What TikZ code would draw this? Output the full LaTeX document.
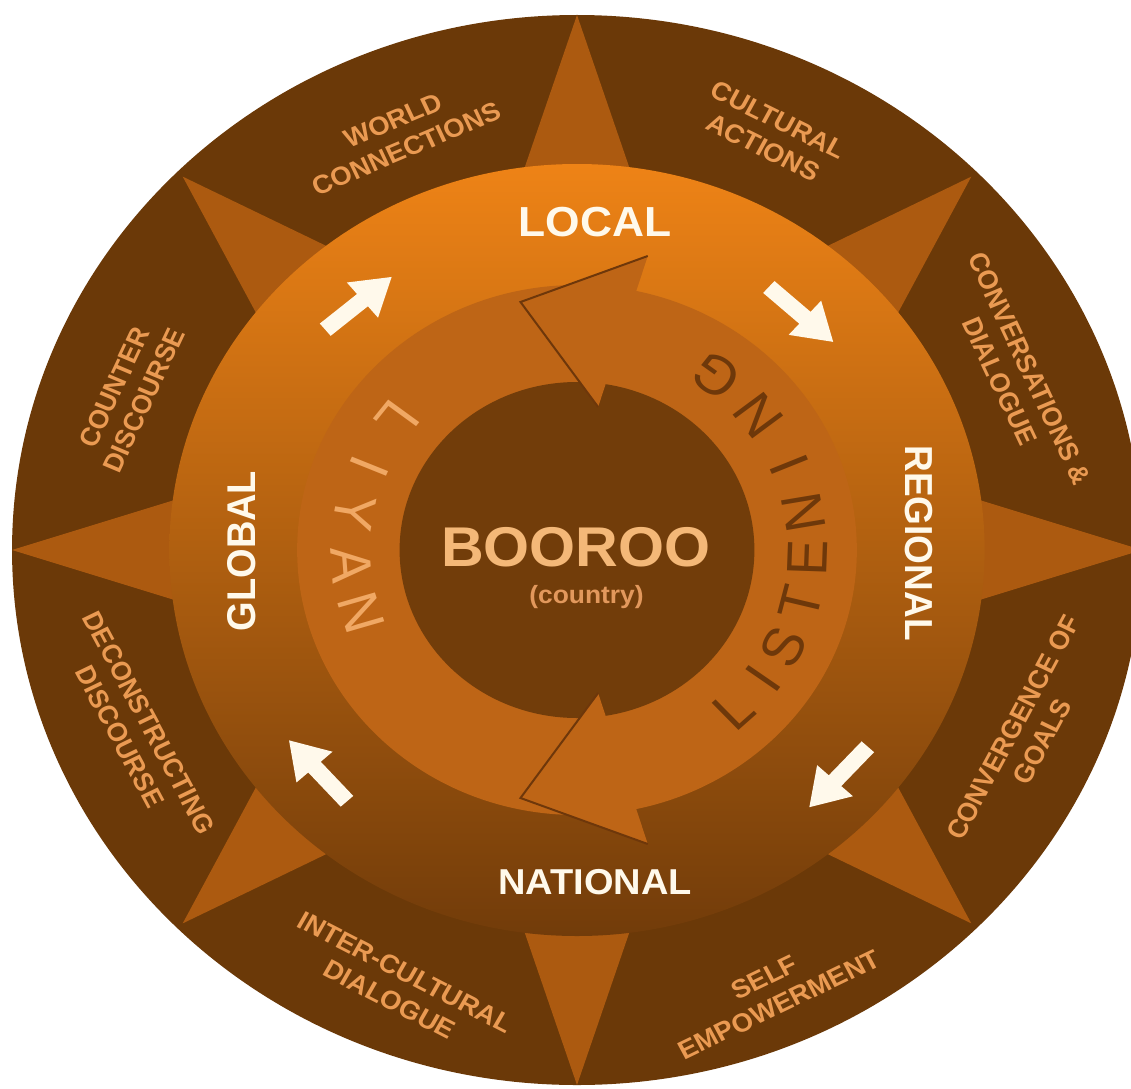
\documentclass[tikz,border=0pt]{standalone}
\usepackage{fontspec}
\setmainfont{Liberation Sans}
\usetikzlibrary{calc}

\definecolor{rimbrown}{RGB}{107,57,8}
\definecolor{starbrown}{RGB}{172,90,16}
\definecolor{ambertop}{RGB}{238,131,22}
\definecolor{ambermid}{RGB}{194,101,19}
\definecolor{amberbot}{RGB}{114,60,10}
\definecolor{ringorange}{RGB}{190,101,22}
\definecolor{corebrown}{RGB}{114,61,10}
\definecolor{edgebrown}{RGB}{110,55,10}
\definecolor{labelpeach}{RGB}{234,154,82}
\definecolor{cream}{RGB}{255,249,235}
\definecolor{titlepeach}{RGB}{244,184,120}
\definecolor{subpeach}{RGB}{226,152,92}
\definecolor{liyanpeach}{RGB}{240,168,100}
\definecolor{listenbrown}{RGB}{110,56,10}

\begin{document}
\begin{tikzpicture}[x=1pt,y=1pt,
  sectorlabel/.style={text=labelpeach, font=\fontsize{26}{31}\selectfont\bfseries,
    align=center, inner sep=0pt},
  scalelabel/.style={text=cream, inner sep=0pt},
  ringletter/.style={font=\fontsize{54}{54}\selectfont, inner sep=0pt},
  flowarrow/.style={fill=cream},
  headedge/.style={draw=edgebrown, line width=2pt, line join=miter},
]
\useasboundingbox (-577,-538) rectangle (554,550);
\begin{scope}[xscale=1.056, transform shape]
  % outer rim
  \fill[rimbrown] (0,0) circle (535);
  % eight star points
  \foreach \a/\r in {0/535,45/528,90/535,135/528,180/535,225/528,270/535,315/528}{
    \fill[starbrown] (\a:\r) -- ($(\a:\r)+(\a+180-18:270)$)
      -- ($(\a:\r)+(\a+180+18:270)$) -- cycle;
  }
  % middle disc with its vertical shading
  \shade[top color=ambertop, middle color=ambermid, bottom color=amberbot]
    (0,0) circle (386);
  % inner ring and core
  \fill[ringorange] (0,0) circle (265);
  \fill[corebrown] (0,0) circle (168);
  % the two arrow heads of the inner ring
  \fill[ringorange] (67,294) -- (-53.5,248) -- (20,143) -- cycle;
  \draw[headedge] (20,143) -- (-53.5,248) -- (67,294);
  \fill[ringorange] (67,-294) -- (-53.5,-248) -- (20,-143) -- cycle;
  \draw[headedge] (20,-143) -- (-53.5,-248) -- (67,-294);

  % white flow arrows, clockwise
  \foreach \a/\r in {130/322,48/317,-42.5/336,-138/330}{
    \begin{scope}[shift={(\a:\r)}, rotate=\a-90]
      \fill[flowarrow] (-41,-8) -- (5,-8) -- (5,-23) -- (41,0) -- (5,23)
        -- (5,8) -- (-41,8) -- cycle;
    \end{scope}
  }

  % sector labels in the outer rim
  \node[sectorlabel, rotate=24]    (world)   at (112:448)    {WORLD\\CONNECTIONS};
  \node[sectorlabel, rotate=-27.5] (actions) at (66.2:455)   {CULTURAL\\ACTIONS};
  \node[sectorlabel, rotate=-66]   (convers) at (22.9:450)   {CONVERSATIONS \&\\DIALOGUE};
  \node[sectorlabel, rotate=63]    (goals)   at (-23.4:465)  {CONVERGENCE OF\\GOALS};
  \node[sectorlabel, rotate=27]    (self)    at (-67.3:478)  {SELF\\EMPOWERMENT};
  \node[sectorlabel, rotate=-28.5] (inter)   at (-111.3:468) {INTER-CULTURAL\\DIALOGUE};
  \node[sectorlabel, rotate=-63]   (decon)   at (-156.8:456) {DECONSTRUCTING\\DISCOURSE};
  \node[sectorlabel, rotate=66]    (counter) at (159.8:452)  {COUNTER\\DISCOURSE};

  % scale labels on the middle disc
  \node[scalelabel, font=\fontsize{42}{42}\selectfont\bfseries] (local) at (17,328) {LOCAL};
  \node[scalelabel, font=\fontsize{37}{37}\selectfont\bfseries, rotate=-90]
    (regional) at (324,7) {REGIONAL};
  \node[scalelabel, font=\fontsize{36}{36}\selectfont\bfseries] (national) at (17,-332) {NATIONAL};
  \node[scalelabel, font=\fontsize{38}{38}\selectfont\bfseries, rotate=90]
    (global) at (-318,-1) {GLOBAL};

  % letters around the inner ring
  \foreach \ch/\a [count=\i] in {L/142.5, I/157, Y/170, A/184, N/197}
    \node[ringletter, text=liyanpeach, rotate=\a+90] (liyan-\i) at (\a:214) {\ch};
  \foreach \ch/\a [count=\i] in {L/-47, I/-36, S/-26.5, T/-14, E/-2, N/10, I/23, N/38, G/53}
    \node[ringletter, text=listenbrown, rotate=\a+90] (listen-\i) at (\a:218) {\ch};

  % core
  \node[text=titlepeach, font=\fontsize{56}{56}\selectfont\bfseries, inner sep=0pt]
    (booroo) at (-1,3) {BOOROO};
  \node[text=subpeach, font=\fontsize{25}{25}\selectfont\bfseries, inner sep=0pt]
    (country) at (9,-47) {(country)};
\end{scope}
\end{tikzpicture}
\end{document}
